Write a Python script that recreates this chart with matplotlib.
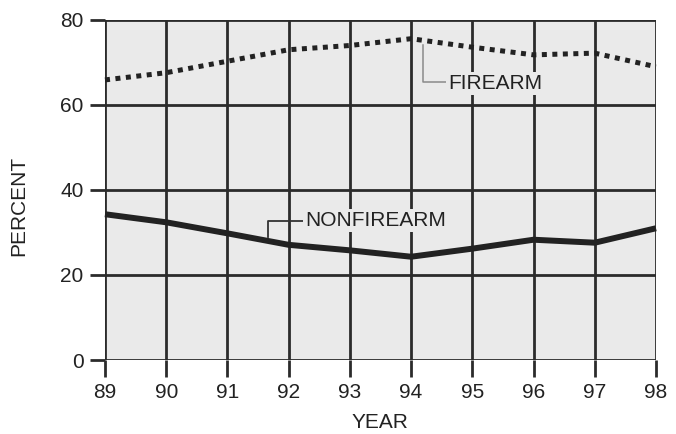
import matplotlib
matplotlib.use("Agg")
import matplotlib.pyplot as plt

years = [89, 90, 91, 92, 93, 94, 95, 96, 97, 98]
year_labels = ["89", "90", "91", "92", "93", "94", "95", "96", "97", "98"]
firearm = [65.9, 67.6, 70.3, 73.0, 74.0, 75.6, 73.6, 71.8, 72.2, 69.0]
nonfirearm = [34.3, 32.4, 29.8, 27.1, 25.8, 24.3, 26.2, 28.3, 27.6, 31.0]
y_ticks = [0, 20, 40, 60, 80]

plt.rcParams['font.family'] = ['Liberation Sans', 'DejaVu Sans']

fig = plt.figure(figsize=(6.76, 4.34), dpi=100)
W, H = 676, 434
ax = fig.add_axes([105 / W, 1 - 360 / H, (656 - 105) / W, (360 - 20) / H])
bg = '#eaeaea'
ax.set_facecolor(bg)
ax.set_xlim(89, 98)
ax.set_ylim(0, 80)

dark = '#2b2b2b'
for x in years:
    ax.axvline(x, color=dark, lw=2.0, zorder=1)
for y in y_ticks:
    ax.axhline(y, color=dark, lw=2.0, zorder=1)
for s in ax.spines.values():
    s.set_visible(False)

ax.plot(years, firearm, color='#222222', lw=3.6, linestyle=(0, (1, 1.1)),
        dash_capstyle='butt', zorder=3, clip_on=False)
ax.plot(years, nonfirearm, color='#222222', lw=4.3, solid_capstyle='butt',
        solid_joinstyle='round', zorder=3, clip_on=False)

ax.set_xticks(years)
ax.set_xticklabels(year_labels)
ax.set_yticks(y_ticks)
ax.tick_params(axis='x', length=12, width=2.0, color=dark, pad=4.5,
               labelsize=15, labelcolor='#222222')
ax.tick_params(axis='y', length=11, width=2.0, color=dark, pad=4.5,
               labelsize=15, labelcolor='#222222')

# callouts
ax.plot([94.2, 94.2, 94.6], [74.1, 65.5, 65.5], color='#8a8a8a', lw=1.1, zorder=4)
ax.text(94.6, 65.0, 'FIREARM', fontsize=15, color='#222222', va='center', ha='left',
        zorder=5, bbox=dict(facecolor=bg, edgecolor='none', pad=1.5))
ax.plot([91.66, 91.66, 92.25], [29.0, 32.7, 32.7], color='#333333', lw=1.3, zorder=4)
ax.text(92.27, 32.9, 'NONFIREARM', fontsize=15, color='#222222', va='center', ha='left',
        zorder=5, bbox=dict(facecolor=bg, edgecolor='none', pad=1.5))

fig.text(19 / W, 1 - 206 / H, 'PERCENT', rotation=90, fontsize=15, color='#222222',
         ha='center', va='center')
fig.text(380 / W, 1 - 423 / H, 'YEAR', fontsize=15, color='#222222',
         ha='center', va='center')

fig.savefig('out.png', dpi=100)
